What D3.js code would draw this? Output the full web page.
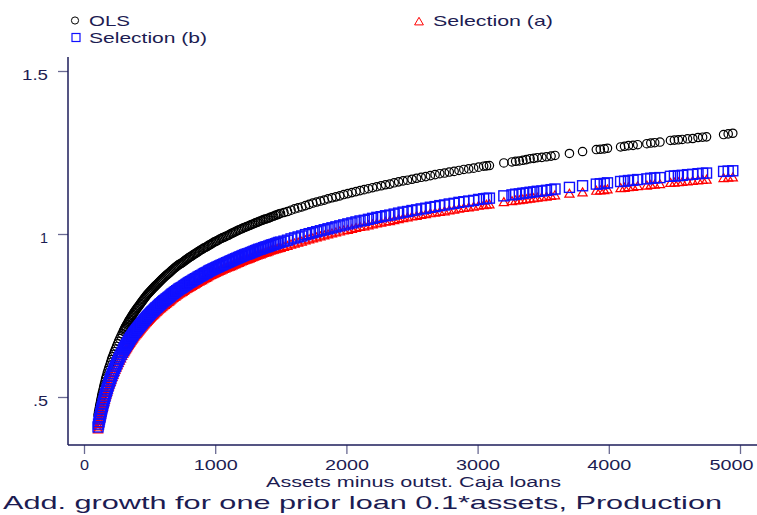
<!DOCTYPE html>
<html>
<head>
<meta charset="utf-8">
<script src="https://cdn.jsdelivr.net/npm/d3@7"></script>
<style>
  body { margin: 0; background: #fff; }
  svg { display: block; }
  text { font-family: "Liberation Sans", Arial, sans-serif; fill: #1c1c52; }
</style>
</head>
<body>
<svg id="chart" width="757" height="515"></svg>
<script>
// assets minus outstanding Caja loans (x) and predicted additional growth per model
const assets = [107, 115, 123, 131, 140, 150, 160, 171, 183, 196, 210, 225, 240, 256, 273, 291, 310, 330, 351, 373,
  396, 420, 445, 471, 498, 526, 555, 585, 616, 648, 681, 715, 750, 786, 823, 861, 900, 940, 981, 1023,
  1066, 1110, 1155, 1201, 1248, 1296, 1345, 1395, 1446, 1498, 1551, 1605, 1660, 1716, 1773, 1831, 1890, 1950, 2011, 2073,
  2136, 2200, 2265, 2331, 2398, 2466, 2535, 2605, 2676, 2748, 2821, 2895, 2970, 3046, 3090,
  3200, 3262, 3290, 3318, 3345, 3372, 3400, 3428, 3455, 3490, 3525, 3560, 3590, 3700, 3800,
  3905, 3935, 3965, 3990, 4090, 4120, 4150, 4185, 4220, 4290, 4320, 4350, 4390, 4470, 4500,
  4530, 4560, 4600, 4640, 4680, 4715, 4745, 4875, 4910, 4945,
  111, 119, 127, 135, 145, 155, 165, 177, 189, 203, 217, 232, 248, 264, 282, 300, 320, 340, 362, 384,
  408, 432, 458, 484, 512, 540, 570, 600, 632, 664, 698, 732, 768, 804, 842, 880, 920, 960, 1002, 1044,
  1088, 1132, 1178, 1224, 1272, 1320, 1370, 1420, 1472, 1524, 1578, 1632, 1688, 1744, 1802, 1860, 1920, 1980, 2042, 2104,
  2168, 2232, 2298, 2364, 2432, 2500, 2570, 2640, 2712, 2784, 2858, 2932, 3008, 3068,
  305, 315, 325, 335, 345, 356, 367, 378, 390, 402, 414, 426, 438, 451, 464, 477, 491, 505, 519, 533,
  547, 562, 577, 592, 608, 624, 640, 656, 672, 689, 706, 723, 741, 759, 777, 795, 813, 832, 851, 870,
  890, 910, 930, 950, 970, 991, 1012, 1033, 1055, 1077, 1099, 1121, 1143, 1166, 1189, 1212, 1236, 1260, 1284, 1308,
  1332, 1357, 1382, 1407, 1433, 1459, 1485];

const olsVals = [.445, .463, .480, .496, .513, .531, .547, .564, .581, .597, .615, .631, .647, .663, .679, .694, .710, .724, .739, .753,
  .767, .780, .794, .808, .821, .833, .845, .857, .869, .880, .892, .903, .912, .923, .933, .943, .953, .962, .972, .981,
  .990, .998, 1.007, 1.016, 1.024, 1.032, 1.040, 1.047, 1.055, 1.063, 1.069, 1.077, 1.083, 1.091, 1.098, 1.104, 1.111, 1.117, 1.124, 1.130,
  1.136, 1.142, 1.148, 1.153, 1.160, 1.165, 1.171, 1.176, 1.182, 1.187, 1.192, 1.198, 1.202, 1.208, 1.210,
  1.218, 1.221, 1.223, 1.224, 1.226, 1.228, 1.231, 1.232, 1.234, 1.235, 1.237, 1.239, 1.241, 1.247, 1.253,
  1.259, 1.260, 1.261, 1.263, 1.267, 1.269, 1.271, 1.272, 1.274, 1.277, 1.279, 1.280, 1.282, 1.287, 1.288,
  1.289, 1.290, 1.292, 1.293, 1.296, 1.297, 1.298, 1.305, 1.307, 1.309,
  .454, .472, .488, .505, .522, .539, .556, .573, .589, .606, .623, .639, .655, .671, .687, .702, .717, .732, .746, .760,
  .774, .787, .801, .815, .827, .839, .851, .863, .875, .886, .898, .908, .918, .928, .938, .948, .958, .967, .977, .986,
  .994, 1.003, 1.012, 1.020, 1.028, 1.036, 1.044, 1.051, 1.059, 1.066, 1.073, 1.080, 1.087, 1.095, 1.101, 1.108, 1.114, 1.121, 1.127, 1.133,
  1.139, 1.145, 1.151, 1.157, 1.163, 1.168, 1.174, 1.179, 1.185, 1.190, 1.195, 1.200, 1.205, 1.209,
  .706, .714, .721, .728, .736, .743, .750, .757, .764, .771, .777, .784, .791, .798, .805, .812, .818, .824, .830, .836,
  .842, .848, .854, .860, .866, .872, .878, .883, .889, .895, .901, .906, .910, .915, .921, .926, .931, .936, .941, .946,
  .951, .956, .960, .965, .970, .975, .979, .984, .988, .992, .996, 1.001, 1.005, 1.010, 1.014, 1.018, 1.022, 1.026, 1.030, 1.034,
  1.038, 1.042, 1.046, 1.049, 1.053, 1.057, 1.061];

const selAVals = [.401, .418, .433, .447, .463, .479, .493, .508, .524, .539, .554, .569, .584, .598, .612, .626, .640, .653, .666, .679,
  .692, .704, .716, .728, .740, .751, .762, .773, .783, .793, .804, .814, .823, .833, .841, .850, .859, .868, .877, .885,
  .893, .900, .908, .916, .923, .931, .938, .945, .952, .958, .964, .971, .977, .984, .990, .996, 1.002, 1.008, 1.013, 1.019,
  1.024, 1.030, 1.035, 1.040, 1.046, 1.051, 1.056, 1.061, 1.066, 1.070, 1.075, 1.080, 1.084, 1.089, 1.091,
  1.098, 1.101, 1.103, 1.104, 1.106, 1.107, 1.109, 1.110, 1.112, 1.113, 1.115, 1.117, 1.119, 1.124, 1.128,
  1.133, 1.134, 1.135, 1.137, 1.141, 1.142, 1.144, 1.145, 1.147, 1.149, 1.151, 1.152, 1.153, 1.157, 1.158,
  1.159, 1.160, 1.162, 1.163, 1.165, 1.166, 1.167, 1.172, 1.173, 1.174,
  .410, .426, .440, .455, .471, .486, .501, .516, .532, .547, .562, .577, .591, .605, .619, .633, .647, .660, .673, .686,
  .698, .710, .722, .734, .746, .757, .768, .778, .788, .799, .809, .819, .828, .837, .846, .855, .864, .873, .881, .889,
  .897, .904, .912, .920, .927, .935, .942, .949, .955, .961, .968, .974, .981, .987, .993, .999, 1.005, 1.011, 1.016, 1.022,
  1.027, 1.033, 1.038, 1.043, 1.049, 1.054, 1.059, 1.064, 1.068, 1.073, 1.078, 1.082, 1.087, 1.090,
  .637, .644, .650, .657, .663, .670, .676, .683, .689, .695, .701, .707, .713, .719, .725, .731, .737, .743, .749, .754,
  .760, .765, .771, .776, .781, .786, .791, .796, .802, .807, .812, .817, .821, .826, .831, .835, .839, .844, .848, .853,
  .857, .862, .866, .871, .875, .879, .883, .887, .891, .895, .899, .902, .906, .910, .914, .918, .922, .925, .929, .933,
  .937, .940, .944, .947, .951, .954, .957];

const selBVals = [.408, .425, .440, .455, .471, .487, .502, .517, .533, .548, .564, .579, .594, .608, .623, .637, .651, .664, .678, .691,
  .704, .716, .728, .741, .753, .764, .775, .786, .797, .807, .818, .828, .837, .847, .856, .865, .874, .883, .892, .900,
  .908, .916, .924, .932, .939, .947, .954, .961, .968, .975, .981, .988, .994, 1.001, 1.007, 1.013, 1.019, 1.025, 1.031, 1.037,
  1.042, 1.048, 1.053, 1.058, 1.064, 1.069, 1.074, 1.079, 1.084, 1.089, 1.094, 1.099, 1.103, 1.108, 1.110,
  1.117, 1.120, 1.122, 1.123, 1.125, 1.126, 1.128, 1.129, 1.131, 1.132, 1.134, 1.136, 1.138, 1.143, 1.148,
  1.153, 1.154, 1.155, 1.157, 1.161, 1.162, 1.164, 1.165, 1.167, 1.169, 1.171, 1.172, 1.173, 1.177, 1.178,
  1.179, 1.180, 1.182, 1.183, 1.185, 1.186, 1.187, 1.192, 1.193, 1.194,
  .417, .433, .448, .463, .479, .495, .510, .525, .541, .556, .572, .587, .601, .616, .630, .644, .658, .671, .685, .698,
  .710, .722, .735, .747, .759, .770, .781, .792, .802, .813, .823, .833, .842, .852, .861, .870, .879, .888, .896, .904,
  .912, .920, .928, .936, .943, .951, .958, .965, .972, .978, .985, .991, .998, 1.004, 1.010, 1.016, 1.022, 1.028, 1.034, 1.040,
  1.045, 1.051, 1.056, 1.061, 1.067, 1.072, 1.077, 1.082, 1.087, 1.092, 1.097, 1.101, 1.106, 1.109,
  .648, .655, .661, .668, .675, .682, .688, .695, .701, .707, .713, .719, .725, .732, .738, .744, .750, .756, .762, .767,
  .773, .778, .784, .789, .795, .800, .805, .810, .816, .821, .826, .831, .835, .840, .845, .850, .854, .859, .863, .868,
  .872, .877, .881, .886, .890, .894, .898, .902, .906, .910, .914, .918, .922, .926, .930, .934, .938, .941, .945, .949,
  .953, .956, .960, .963, .967, .970, .974];

const xTicks = [0, 1000, 2000, 3000, 4000, 5000];
const yTicks = [0.5, 1, 1.5];
const yTickLabels = [".5", "1", "1.5"];

const svg = d3.select("#chart");

// plot frame
const plotLeft = 68, plotBottom = 445, plotTop = 57, plotRight = 757;

const x = d3.scaleLinear().domain([0, 5000]).range([84, 740]);
const y = d3.scaleLinear().domain([0.5, 1.5]).range([397, 71]);

// axes
const yAxis = svg.append("g")
  .attr("transform", "translate(" + plotLeft + ",0)")
  .call(d3.axisLeft(y).tickValues(yTicks).tickSize(10).tickFormat((d, i) => yTickLabels[i]));
yAxis.select(".domain").remove();
yAxis.selectAll(".tick line").attr("stroke", "#6a6a92").attr("stroke-width", 1.3);
yAxis.selectAll(".tick text")
  .attr("x", -20).attr("dy", "0.55em")
  .attr("font-size", 15)
  .attr("fill", "#1c1c52")
  .style("font-family", "Liberation Sans, Arial, sans-serif")
  .attr("textLength", (d, i) => [15, 8, 26][i])
  .attr("lengthAdjust", "spacingAndGlyphs");

const xAxis = svg.append("g")
  .attr("transform", "translate(0," + plotBottom + ")")
  .call(d3.axisBottom(x).tickValues(xTicks).tickSize(9).tickFormat(d3.format("d")));
xAxis.select(".domain").remove();
xAxis.selectAll(".tick line").attr("stroke", "#6a6a92").attr("stroke-width", 1.3);
xAxis.selectAll(".tick text")
  .attr("y", 25).attr("dy", 0)
  .attr("font-size", 15)
  .attr("fill", "#1c1c52")
  .style("font-family", "Liberation Sans, Arial, sans-serif")
  .attr("textLength", d => d === 0 ? 9 : 44)
  .attr("lengthAdjust", "spacingAndGlyphs")
  .attr("x", d => d === 5000 ? -9 : 0);

svg.append("line").attr("x1", plotLeft).attr("x2", plotLeft).attr("y1", plotTop).attr("y2", plotBottom)
  .attr("stroke", "#1c1c5a").attr("stroke-width", 1.5);
svg.append("line").attr("x1", plotLeft).attr("x2", plotRight).attr("y1", plotBottom).attr("y2", plotBottom)
  .attr("stroke", "#1c1c5a").attr("stroke-width", 1.5);

// markers
const pts = assets.map((a, i) => ({ a: a, ols: olsVals[i], sa: selAVals[i], sb: selBVals[i] }));
const tri = "M0,-4.4L4.6,3.6L-4.6,3.6Z";

svg.append("g").selectAll("circle").data(pts).join("circle")
  .attr("cx", d => x(d.a)).attr("cy", d => y(d.ols)).attr("r", 4.2)
  .attr("fill", "none").attr("stroke", "#000").attr("stroke-width", 1.2);

svg.append("g").selectAll("path").data(pts).join("path")
  .attr("d", tri)
  .attr("transform", d => "translate(" + x(d.a) + "," + y(d.sa) + ")")
  .attr("fill", "none").attr("stroke", "#ff0000").attr("stroke-width", 1.2);

svg.append("g").selectAll("rect").data(pts).join("rect")
  .attr("x", d => x(d.a) - 5).attr("y", d => y(d.sb) - 5)
  .attr("width", 10).attr("height", 10)
  .attr("fill", "none").attr("stroke", "#1010ff").attr("stroke-width", 1.4);

// legend
svg.append("circle").attr("cx", 75).attr("cy", 20.5).attr("r", 3.6)
  .attr("fill", "none").attr("stroke", "#000").attr("stroke-width", 1);
svg.append("text").attr("x", 89).attr("y", 26).attr("font-size", 15)
  .attr("textLength", 41).attr("lengthAdjust", "spacingAndGlyphs").text("OLS");

svg.append("rect").attr("x", 72).attr("y", 33.5).attr("width", 8).attr("height", 8)
  .attr("fill", "none").attr("stroke", "#1010ff").attr("stroke-width", 1.2);
svg.append("text").attr("x", 89).attr("y", 43).attr("font-size", 15)
  .attr("textLength", 118).attr("lengthAdjust", "spacingAndGlyphs").text("Selection (b)");

svg.append("path").attr("d", "M0,-4.2L4.4,3.4L-4.4,3.4Z").attr("transform", "translate(419,21.5)")
  .attr("fill", "none").attr("stroke", "#ff0000").attr("stroke-width", 1);
svg.append("text").attr("x", 433).attr("y", 25.5).attr("font-size", 15)
  .attr("textLength", 120).attr("lengthAdjust", "spacingAndGlyphs").text("Selection (a)");

// titles
svg.append("text").attr("x", 266).attr("y", 487).attr("font-size", 14)
  .attr("textLength", 295).attr("lengthAdjust", "spacingAndGlyphs")
  .text("Assets minus outst. Caja loans");
svg.append("text").attr("x", 3).attr("y", 509).attr("font-size", 19)
  .attr("textLength", 719).attr("lengthAdjust", "spacingAndGlyphs")
  .text("Add. growth for one prior loan 0.1*assets, Production");
</script>
</body>
</html>
